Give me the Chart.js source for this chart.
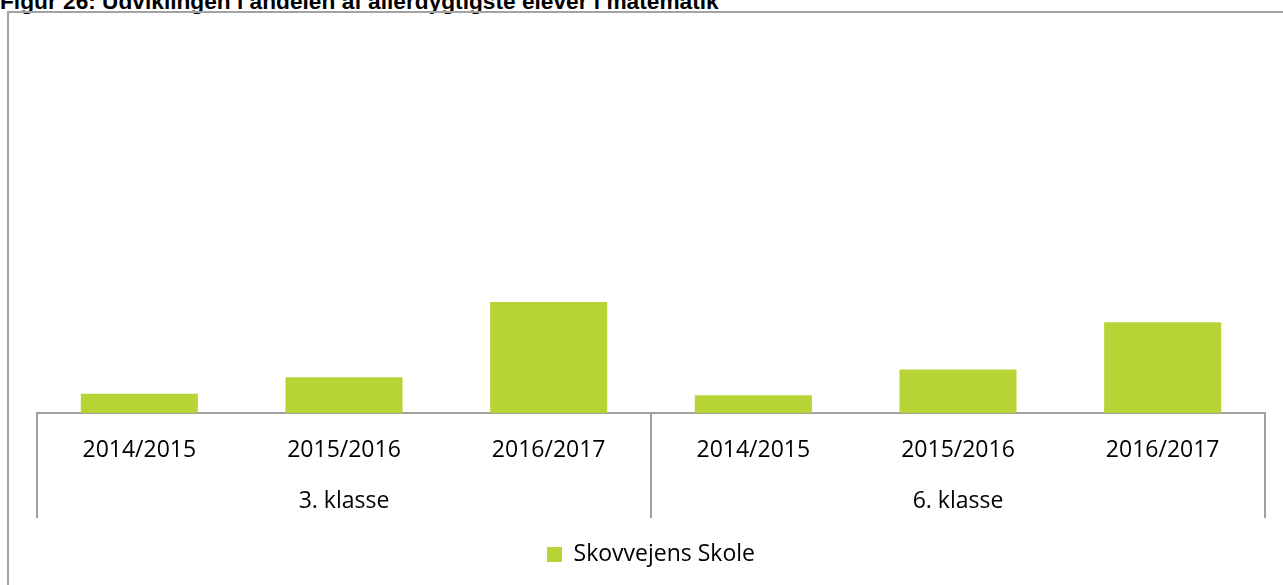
<!DOCTYPE html>
<html>
<head>
<meta charset="utf-8">
<script src="https://cdn.jsdelivr.net/npm/chart.js"></script>
<style>
    html, body { margin: 0; padding: 0; background: #fff; overflow: hidden; }
    .title {
        position: absolute; left: 0; top: -10px;
        font: bold 22.7px "Liberation Sans", Arial, sans-serif; line-height: 22px;
        color: #000; white-space: nowrap;
    }
    .frame {
        position: absolute; left: 7px; top: 11px; width: 1400px; height: 700px;
        border: 2px solid #a3a3a3;
    }
    .chart-box { position: absolute; left: 0; top: 0; width: 1283px; height: 585px; }
</style>
</head>
<body>
<div class="title">Figur 26: Udviklingen i andelen af allerdygtigste elever i matematik</div>
<div class="frame"></div>
<div class="chart-box"><canvas id="skoleChart"></canvas></div>
<script>
// Chart data
const years = ['2014/2015', '2015/2016', '2016/2017', '2014/2015', '2015/2016', '2016/2017'];
const groups = ['3. klasse', '6. klasse'];
const groupSizes = [3, 3];
const skoleValues = [1.5, 2.8, 8.7, 1.4, 3.4, 7.1];
const seriesName = 'Skovvejens Skole';

const barColor = '#b6d436';
const axisColor = '#a0a0a0';
const labelFont = { family: '"Open Sans", sans-serif', size: 23 };

// Draws the second row of category labels and the separators
const groupAxisPlugin = {
    id: 'groupAxis',
    afterDraw(chart) {
        const ctx = chart.ctx;
        const x = chart.scales.x;
        const area = chart.chartArea;
        const step = (x.right - x.left) / years.length;
        const lineBottom = area.bottom + 105;

        ctx.save();
        ctx.strokeStyle = axisColor;
        ctx.lineWidth = 2;
        ctx.fillStyle = '#000';
        ctx.font = labelFont.size + 'px ' + labelFont.family;
        ctx.textAlign = 'center';
        ctx.textBaseline = 'middle';

        let start = 0;
        const edges = [x.left];
        groups.forEach(function(name, i) {
            const end = start + groupSizes[i];
            const left = x.left + start * step;
            const right = x.left + end * step;
            edges.push(right);
            ctx.fillText(name, (left + right) / 2, area.bottom + 88);
            start = end;
        });
        edges.forEach(function(px) {
            ctx.beginPath();
            ctx.moveTo(Math.round(px), area.bottom);
            ctx.lineTo(Math.round(px), lineBottom);
            ctx.stroke();
        });
        ctx.restore();
    }
};

document.addEventListener('DOMContentLoaded', function() {
    const ctx = document.getElementById('skoleChart').getContext('2d');
    new Chart(ctx, {
        type: 'bar',
        data: {
            labels: years,
            datasets: [{
                label: seriesName,
                data: skoleValues,
                backgroundColor: barColor,
                borderWidth: 0,
                categoryPercentage: 1,
                barPercentage: 0.572
            }]
        },
        options: {
            responsive: true,
            maintainAspectRatio: false,
            animation: false,
            layout: {
                padding: { left: 37, right: 18, top: 30, bottom: 9 }
            },
            plugins: {
                legend: {
                    position: 'bottom',
                    labels: {
                        boxWidth: 15,
                        boxHeight: 15,
                        padding: 15,
                        color: '#000',
                        font: labelFont
                    }
                },
                tooltip: { enabled: false }
            },
            scales: {
                x: {
                    grid: { display: false, drawTicks: false },
                    border: { display: true, color: axisColor, width: 2 },
                    ticks: {
                        color: '#000',
                        font: labelFont,
                        padding: 24,
                        maxRotation: 0,
                        autoSkip: false
                    },
                    afterFit: function(scale) {
                        scale.height = 115;
                    }
                },
                y: {
                    display: false,
                    min: 0,
                    max: 30
                }
            }
        },
        plugins: [groupAxisPlugin]
    });
});
</script>
</body>
</html>
